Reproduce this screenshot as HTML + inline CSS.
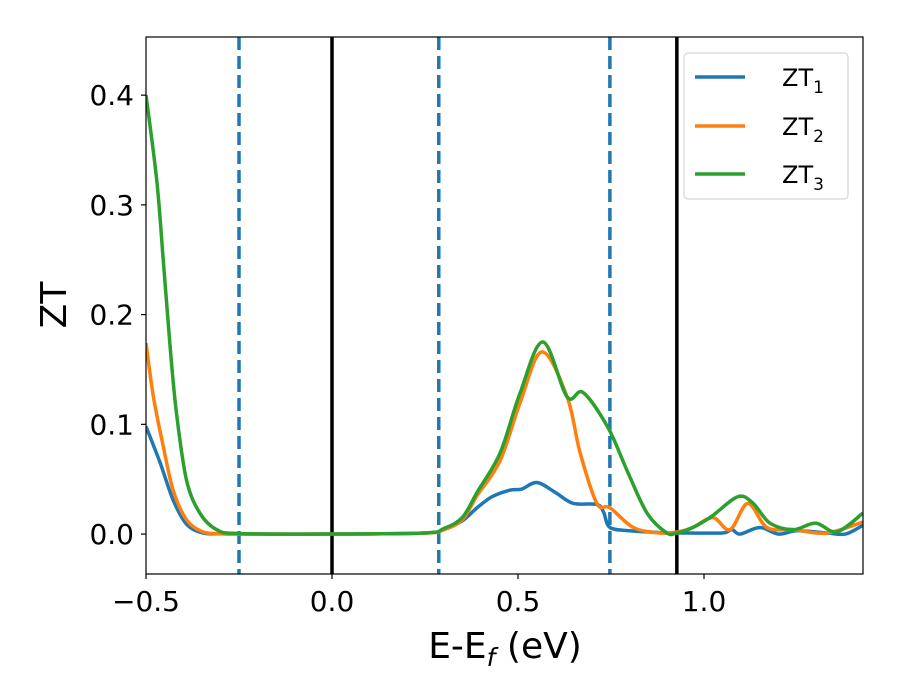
<!DOCTYPE html>
<html><head><meta charset="utf-8"><style>
body{margin:0;background:#fff;}
svg{display:block;font-family:"DejaVu Sans","Liberation Sans",sans-serif;}
</style></head><body>
<svg id="chart" width="900" height="700">
<defs><clipPath id="clip"><rect x="146" y="37" width="717" height="537"/></clipPath></defs>
<rect x="0" y="0" width="900" height="700" fill="#fff"/>
<g id="vlines" clip-path="url(#clip)"></g>
<g id="series" clip-path="url(#clip)"></g>
<rect x="146" y="37" width="717" height="537" fill="none" stroke="#000" stroke-width="1.2"/>
<g id="xticks"></g>
<g id="yticks"></g>
<text x="505" y="658" text-anchor="middle" font-size="36">E-E<tspan font-style="italic" font-size="25" dy="8">f</tspan><tspan dy="-8"> (eV)</tspan></text>
<text transform="translate(66,305) rotate(-90)" text-anchor="middle" font-size="36">ZT</text>
<g>
<rect x="684" y="53" width="164" height="146" rx="4" fill="#fff" fill-opacity="0.8" stroke="#ccc" stroke-width="1"/>
<g><line x1="695" y1="77" x2="745" y2="77" stroke="#1f77b4" stroke-width="3.5"/><text x="782" y="86" font-size="24">ZT<tspan font-size="17" dy="7">1</tspan></text></g>
<g><line x1="695" y1="126" x2="745" y2="126" stroke="#ff7f0e" stroke-width="3.5"/><text x="782" y="135" font-size="24">ZT<tspan font-size="17" dy="7">2</tspan></text></g>
<g><line x1="695" y1="174" x2="745" y2="174" stroke="#2ca02c" stroke-width="3.5"/><text x="782" y="183" font-size="24">ZT<tspan font-size="17" dy="7">3</tspan></text></g>
</g>
</svg>
<script>
const xTicks=[-0.5,0.0,0.5,1.0];
const xTickLabels=["\u22120.5","0.0","0.5","1.0"];
const yTicks=[0.0,0.1,0.2,0.3,0.4];
const yTickLabels=["0.0","0.1","0.2","0.3","0.4"];
const dashedLines=[-0.25,0.287,0.747];
const solidLines=[0.0,0.927];
const zt1X=[-0.5,-0.462,-0.427,-0.391,-0.347,-0.3,-0.25,0.0,0.25,0.3,0.35,0.39,0.43,0.478,0.51,0.551,0.6,0.648,0.712,0.73,0.747,0.8,0.85,0.9,0.96,1.05,1.075,1.097,1.15,1.2,1.25,1.33,1.38,1.427];
const zt1Y=[0.098,0.065,0.031,0.009,0.001,0.0003,0.0001,0,0.001,0.004,0.012,0.024,0.034,0.040,0.041,0.047,0.038,0.028,0.027,0.02,0.006,0.003,0.002,0.001,0.001,0.001,0.004,0,0.006,0,0.003,0.001,0,0.008];
const zt2X=[-0.5,-0.48,-0.453,-0.427,-0.391,-0.347,-0.3,-0.25,0.0,0.25,0.3,0.35,0.39,0.452,0.505,0.564,0.632,0.667,0.712,0.747,0.81,0.88,0.93,0.97,1.024,1.07,1.118,1.169,1.24,1.33,1.427];
const zt2Y=[0.174,0.125,0.079,0.040,0.013,0.002,0.0004,0.0001,0,0.001,0.004,0.013,0.035,0.067,0.119,0.166,0.125,0.074,0.028,0.024,0.006,0.001,0.002,0.006,0.015,0.004,0.028,0.006,0.004,0.001,0.011];
const zt3X=[-0.5,-0.471,-0.453,-0.435,-0.418,-0.391,-0.355,-0.31,-0.25,0.0,0.25,0.3,0.35,0.39,0.452,0.505,0.567,0.632,0.675,0.742,0.793,0.847,0.9,0.927,0.97,1.02,1.091,1.132,1.177,1.24,1.3,1.357,1.427];
const zt3Y=[0.4,0.322,0.247,0.170,0.110,0.049,0.019,0.004,0.0005,0,0.001,0.005,0.015,0.038,0.074,0.128,0.175,0.125,0.129,0.097,0.058,0.019,0.001,0.001,0.006,0.016,0.034,0.028,0.010,0.004,0.010,0.002,0.019];
const X0=146,X1=863,XMIN=-0.5,XMAX=1.4274,Y0=574,Y1=37,YMIN=-0.0364,YMAX=0.453;
function sx(v){return X0+(v-XMIN)/(XMAX-XMIN)*(X1-X0);}
function sy(v){return Y0-(v-YMIN)/(YMAX-YMIN)*(Y0-Y1);}
const NS="http://www.w3.org/2000/svg";
function mk(tag,attrs,parent){const e=document.createElementNS(NS,tag);for(const k in attrs)e.setAttribute(k,attrs[k]);parent.appendChild(e);return e;}
const vl=document.getElementById('vlines');
dashedLines.forEach((v,i)=>{const l=mk('line',{x1:sx(v),x2:sx(v),y1:Y1,y2:Y0,stroke:'#1f77b4','stroke-width':3.5,'stroke-dasharray':'13,6'},vl);

});
solidLines.forEach((v,i)=>{const l=mk('line',{x1:sx(v),x2:sx(v),y1:Y1,y2:Y0,stroke:'#000','stroke-width':3.5},vl);

});
function pathD(xs,ys){const p=xs.map((x,i)=>[sx(x),sy(ys[i])]);let d='M'+p[0][0]+','+p[0][1];
for(let i=0;i<p.length-1;i++){const a=p[Math.max(0,i-1)],b=p[i],c=p[i+1],e=p[Math.min(p.length-1,i+2)];
const c1=[b[0]+(c[0]-a[0])/6,b[1]+(c[1]-a[1])/6],c2=[c[0]-(e[0]-b[0])/6,c[1]-(e[1]-b[1])/6];
d+=' C'+c1[0]+','+c1[1]+' '+c2[0]+','+c2[1]+' '+c[0]+','+c[1];}return d;}
const sg=document.getElementById('series');
[[zt1X,zt1Y,'#1f77b4','line-zt1'],[zt2X,zt2Y,'#ff7f0e','line-zt2'],[zt3X,zt3Y,'#2ca02c','line-zt3']].forEach(s=>{
const p=mk('path',{d:pathD(s[0],s[1]),fill:'none',stroke:s[2],'stroke-width':3.5,'stroke-linejoin':'round'},sg);

});
const xg=document.getElementById('xticks');
xTicks.forEach((v,i)=>{const t=mk('line',{x1:sx(v),x2:sx(v),y1:Y0,y2:Y0+5,stroke:'#000','stroke-width':1.2},xg);


const tx=mk('text',{x:sx(v),y:Y0+37,'text-anchor':'middle','font-size':28},xg);tx.textContent=xTickLabels[i];

});
const yg=document.getElementById('yticks');
yTicks.forEach((v,i)=>{const t=mk('line',{x1:X0-5,x2:X0,y1:sy(v),y2:sy(v),stroke:'#000','stroke-width':1.2},yg);


const tx=mk('text',{x:X0-12,y:sy(v)+10,'text-anchor':'end','font-size':28},yg);tx.textContent=yTickLabels[i];

});
</script>
</body></html>
